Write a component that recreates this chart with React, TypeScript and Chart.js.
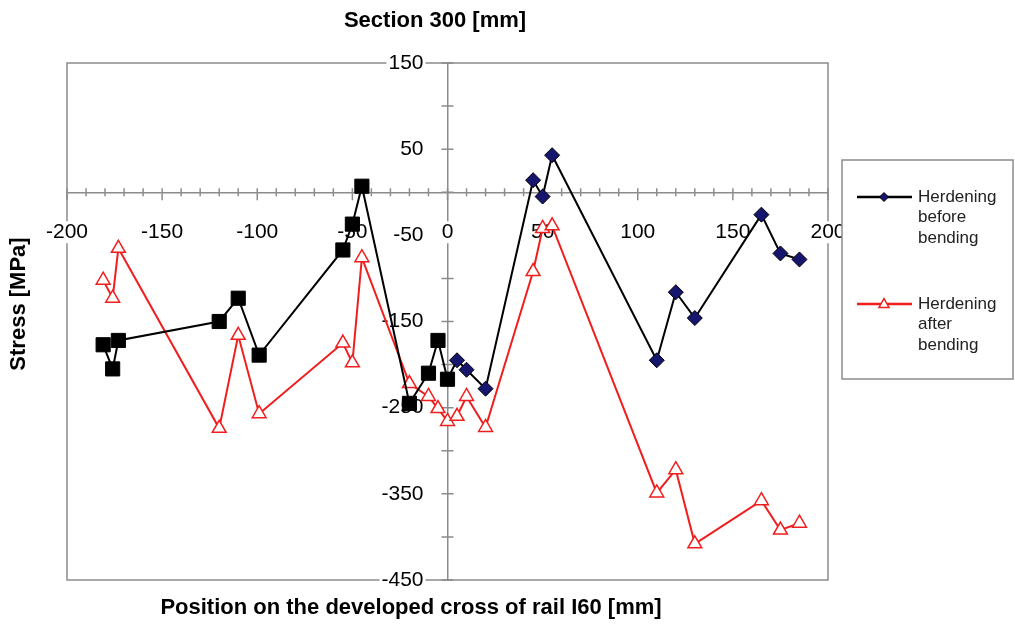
import React, { useEffect, useRef } from 'react';
import { Chart, registerables } from 'chart.js';

Chart.register(...registerables);

// Measurement positions on the developed cross section [mm]
const positions = [-181, -176, -173, -120, -110, -99, -55, -50, -45, -20, -10, -5, 0, 5, 10, 20, 45, 50, 55, 110, 120, 130, 165, 175, 185];
// Stress [MPa], hardening before bending
const stressBefore = [-177, -205, -172, -150, -123, -189, -67, -37, 7, -245, -210, -172, -217, -195, -206, -228, 14, -5, 43, -195, -116, -146, -26, -71, -78];
// Stress [MPa], hardening after bending
const stressAfter = [-102, -123, -65, -274, -166, -257, -175, -198, -76, -222, -237, -251, -266, -260, -237, -273, -92, -42, -39, -349, -322, -408, -358, -392, -384];

const xLabelValues = [-200, -150, -100, -50, 0, 50, 100, 150, 200];
const yLabelValues = [150, 50, -50, -150, -250, -350, -450];
const seriesNames = ['Herdening before bending', 'Herdening after bending'];
const chartTitle = 'Section 300 [mm]';
const xTitle = 'Position on the developed cross of rail I60 [mm]';
const yTitle = 'Stress [MPa]';

const FONT = '"Liberation Sans", Arial, Helvetica, sans-serif';
const GRAY = '#8c8c8c';
const NAVY = '#16166e';
const RED = 'rgb(240,30,30)';

export default function App() {
  const ref = useRef<HTMLCanvasElement>(null);

  useEffect(() => {
    const canvas = ref.current;
    if (!canvas) return;

    const blackStyles = positions.map((x) => (x <= 0 ? 'rect' : 'rectRot'));
    const blackRadius = positions.map((x) => (x <= 0 ? 10 : 7.5));
    const blackFill = positions.map((x) => (x <= 0 ? '#000000' : NAVY));

    const decor = {
      id: 'decor',
      beforeDatasetsDraw(chart: any) {
        const { ctx, chartArea } = chart;
        const xs = chart.scales.x;
        const ys = chart.scales.y;
        const x0 = xs.getPixelForValue(0);
        const y0 = ys.getPixelForValue(0);
        ctx.save();
        // plot frame
        ctx.strokeStyle = GRAY;
        ctx.lineWidth = 1.5;
        ctx.strokeRect(chartArea.left, chartArea.top, chartArea.right - chartArea.left, chartArea.bottom - chartArea.top);
        // tick marks on x axis
        ctx.beginPath();
        xs.ticks.forEach((t: any) => {
          const px = xs.getPixelForValue(t.value);
          const major = Math.round(t.value) % 50 === 0;
          ctx.moveTo(px, y0 - 4);
          ctx.lineTo(px, y0 + (major ? 8 : 4));
        });
        ys.ticks.forEach((t: any) => {
          const py = ys.getPixelForValue(t.value);
          ctx.moveTo(x0 - 6, py);
          ctx.lineTo(x0 + 6, py);
        });
        ctx.stroke();
        // tick labels
        ctx.font = `21px ${FONT}`;
        ctx.textBaseline = 'middle';
        ctx.fillStyle = '#000';
        xLabelValues.forEach((v) => {
          const px = xs.getPixelForValue(v);
          const py = y0 + 40;
          const text = String(v);
          const w = ctx.measureText(text).width;
          ctx.fillStyle = '#fff';
          ctx.fillRect(px - w / 2 - 2, py - 11, w + 4, 22);
          ctx.fillStyle = '#000';
          ctx.textAlign = 'center';
          ctx.fillText(text, px, py);
        });
        yLabelValues.forEach((v) => {
          const px = x0 - 24;
          const py = ys.getPixelForValue(v);
          const text = String(v);
          const w = ctx.measureText(text).width;
          ctx.fillStyle = '#fff';
          ctx.fillRect(px - w - 2, py - 11, w + 4, 22);
          ctx.fillStyle = '#000';
          ctx.textAlign = 'right';
          ctx.fillText(text, px, py);
        });
        // titles
        ctx.font = `bold 22px ${FONT}`;
        ctx.textAlign = 'center';
        ctx.fillText(chartTitle, 435, 21);
        ctx.fillText(xTitle, 411, 608);
        ctx.save();
        ctx.translate(19, 304);
        ctx.rotate(-Math.PI / 2);
        ctx.fillText(yTitle, 0, 0);
        ctx.restore();
        ctx.restore();
      },
      afterDraw(chart: any) {
        const { ctx } = chart;
        ctx.save();
        // legend box
        const bx = 842, by = 160, bw = 171, bh = 219;
        ctx.fillStyle = '#fff';
        ctx.fillRect(bx, by, bw, bh);
        ctx.strokeStyle = GRAY;
        ctx.lineWidth = 1.5;
        ctx.strokeRect(bx, by, bw, bh);
        const entries = [
          { y: 197, color: '#000', name: seriesNames[0], marker: 'diamond' },
          { y: 304, color: RED, name: seriesNames[1], marker: 'triangle' },
        ];
        entries.forEach((e) => {
          ctx.strokeStyle = e.color;
          ctx.lineWidth = 2.5;
          ctx.beginPath();
          ctx.moveTo(857, e.y);
          ctx.lineTo(912, e.y);
          ctx.stroke();
          const mx = 884;
          ctx.beginPath();
          if (e.marker === 'diamond') {
            ctx.moveTo(mx, e.y - 4.5);
            ctx.lineTo(mx + 4.5, e.y);
            ctx.lineTo(mx, e.y + 4.5);
            ctx.lineTo(mx - 4.5, e.y);
            ctx.closePath();
            ctx.fillStyle = NAVY;
            ctx.fill();
            ctx.lineWidth = 1;
            ctx.strokeStyle = '#000';
            ctx.stroke();
          } else {
            ctx.moveTo(mx, e.y - 5.5);
            ctx.lineTo(mx + 5, e.y + 3.5);
            ctx.lineTo(mx - 5, e.y + 3.5);
            ctx.closePath();
            ctx.fillStyle = '#fff';
            ctx.fill();
            ctx.lineWidth = 1.5;
            ctx.strokeStyle = RED;
            ctx.stroke();
          }
          ctx.fillStyle = '#222';
          ctx.font = `17px ${FONT}`;
          ctx.textAlign = 'left';
          ctx.textBaseline = 'middle';
          e.name.split(' ').forEach((word, i) => {
            ctx.fillText(word, 918, e.y + i * 20.5);
          });
        });
        ctx.restore();
      },
    };

    const chart = new Chart(canvas, {
      type: 'line',
      data: {
        datasets: [
          {
            label: seriesNames[0],
            data: positions.map((x, i) => ({ x, y: stressBefore[i] })),
            borderColor: '#000',
            borderWidth: 2,
            pointStyle: blackStyles as any,
            pointRadius: blackRadius,
            pointBackgroundColor: blackFill,
            pointBorderColor: '#000',
            pointBorderWidth: 1,
            tension: 0,
          },
          {
            label: seriesNames[1],
            data: positions.map((x, i) => ({ x, y: stressAfter[i] })),
            borderColor: RED,
            borderWidth: 2,
            pointStyle: 'triangle',
            pointRadius: 8,
            pointBackgroundColor: '#fff',
            pointBorderColor: RED,
            pointBorderWidth: 1.5,
            tension: 0,
          },
        ],
      },
      options: {
        animation: false,
        responsive: false,
        devicePixelRatio: 1,
        layout: { padding: { left: 67, right: 187, top: 63, bottom: 46 } },
        plugins: {
          legend: { display: false },
          tooltip: { enabled: false },
          title: { display: false },
        },
        scales: {
          x: {
            type: 'linear',
            min: -200,
            max: 200,
            position: { y: 0 } as any,
            ticks: { display: false, stepSize: 10 },
            grid: { display: false },
            border: { display: true, color: GRAY, width: 1.5 },
          },
          y: {
            type: 'linear',
            min: -450,
            max: 150,
            position: { x: 0 } as any,
            ticks: { display: false, stepSize: 50 },
            grid: { display: false },
            border: { display: true, color: GRAY, width: 1.5 },
          },
        },
      } as any,
      plugins: [decor],
    });

    return () => chart.destroy();
  }, []);

  return (
    <div style={{ position: 'fixed', left: 0, top: 0, width: 1015, height: 626, background: '#fff' }}>
      <canvas ref={ref} width={1015} height={626} style={{ display: 'block' }} />
    </div>
  );
}
